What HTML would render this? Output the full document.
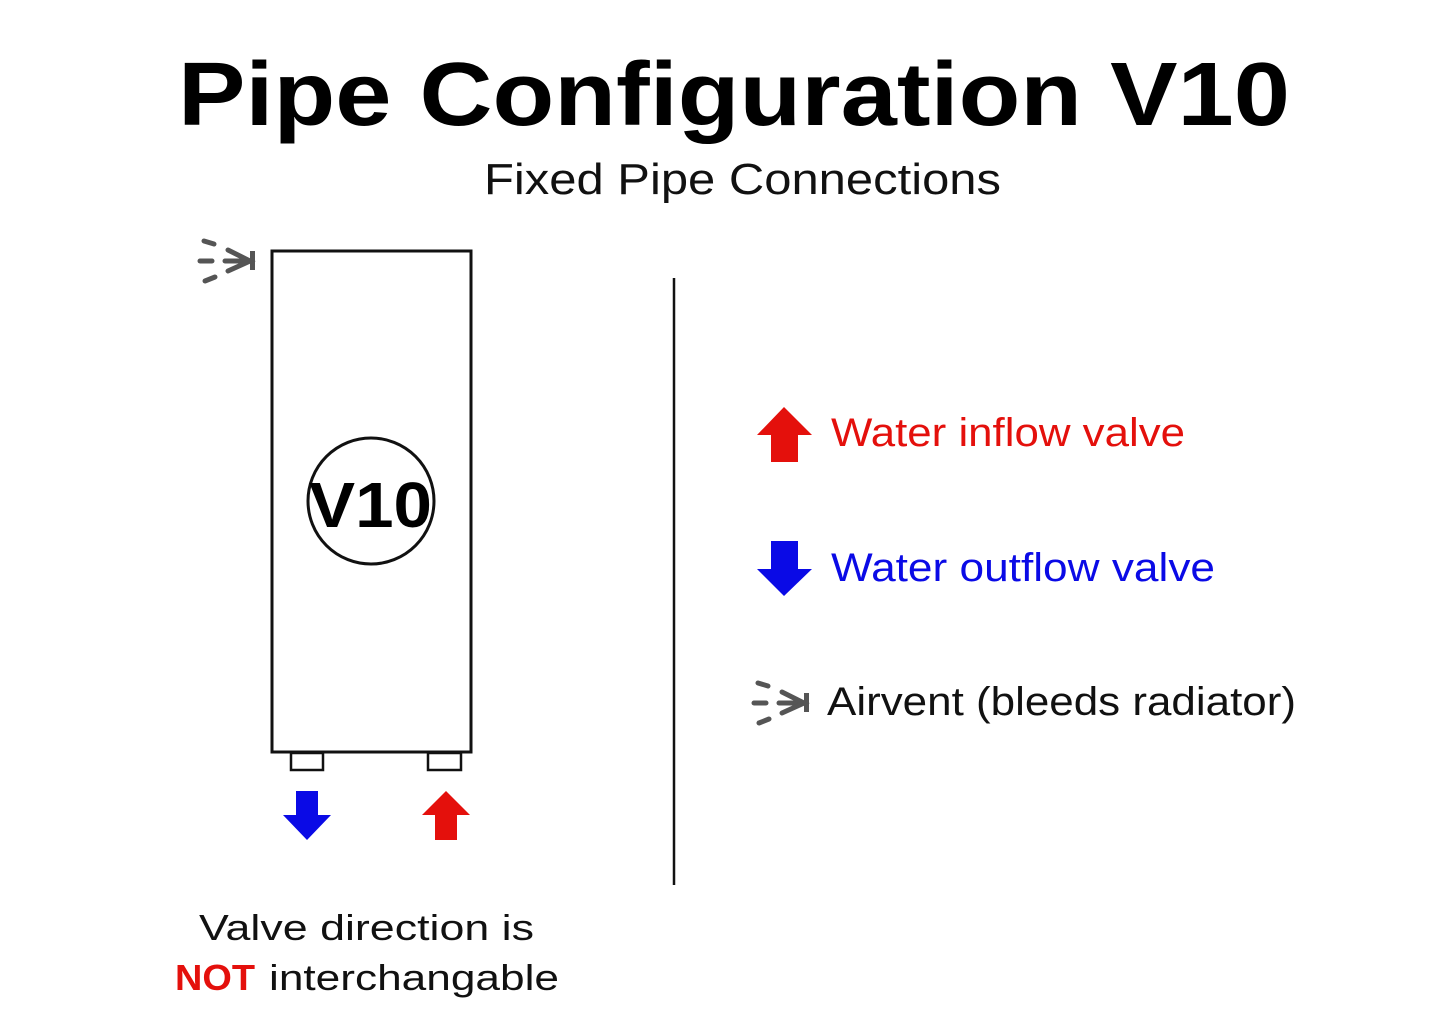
<!DOCTYPE html>
<html><head><style>html,body{margin:0;padding:0;background:#fff}svg{display:block}</style></head><body>
<svg width="1445" height="1028" viewBox="0 0 1445 1028" xmlns="http://www.w3.org/2000/svg" font-family="Liberation Sans, sans-serif">
<rect width="1445" height="1028" fill="#fff"/>
<text x="178" y="125" font-size="90" font-weight="bold" textLength="1112" lengthAdjust="spacingAndGlyphs" fill="#000">Pipe Configuration V10</text>
<text x="484" y="194" font-size="44" textLength="517" lengthAdjust="spacingAndGlyphs" fill="#111">Fixed Pipe Connections</text>
<rect x="272" y="251" width="199" height="501" fill="none" stroke="#111" stroke-width="3"/>
<rect x="291" y="753" width="32" height="17" fill="none" stroke="#111" stroke-width="2.5"/>
<rect x="428" y="753" width="33" height="17" fill="none" stroke="#111" stroke-width="2.5"/>
<circle cx="371" cy="501" r="63" fill="none" stroke="#111" stroke-width="3"/>
<text x="309" y="527" font-size="64" font-weight="bold" textLength="123" lengthAdjust="spacingAndGlyphs" fill="#000">V10</text>
<g stroke="#555" stroke-width="5" stroke-linecap="round" fill="none">
<line x1="204" y1="241" x2="214" y2="244"/><line x1="200" y1="261" x2="212" y2="261"/><line x1="205" y1="281" x2="215" y2="277"/>
<line x1="225" y1="261" x2="250" y2="261"/><polyline points="228,250 250,261 228,271"/>
</g>
<rect x="250" y="251" width="5" height="19" fill="#555"/>
<polygon points="296,791 318,791 318,815 331,815 307,840 283,815 296,815" fill="#0a0ae6"/>
<polygon points="446,791 470,815 457,815 457,840 435,840 435,815 422,815" fill="#e4100c"/>
<line x1="674" y1="278" x2="674" y2="885" stroke="#111" stroke-width="2.5"/>
<polygon points="784,407 812,435 798,435 798,462 771,462 771,435 757,435" fill="#e4100c"/>
<text x="831" y="446" font-size="40" textLength="354" lengthAdjust="spacingAndGlyphs" fill="#e4100c">Water inflow valve</text>
<polygon points="771,541 798,541 798,569 812,569 784,596 757,569 771,569" fill="#0a0ae6"/>
<text x="831" y="581" font-size="40" textLength="384" lengthAdjust="spacingAndGlyphs" fill="#0a0ae6">Water outflow valve</text>
<g stroke="#555" stroke-width="5" stroke-linecap="round" fill="none">
<line x1="758" y1="683" x2="768" y2="686"/><line x1="754" y1="703" x2="766" y2="703"/><line x1="759" y1="723" x2="769" y2="719"/>
<line x1="779" y1="703" x2="804" y2="703"/><polyline points="782,692 804,703 782,713"/>
</g>
<rect x="804" y="693" width="5" height="19" fill="#555"/>
<text x="827" y="715" font-size="40" textLength="469" lengthAdjust="spacingAndGlyphs" fill="#111">Airvent (bleeds radiator)</text>
<text x="199" y="940" font-size="36" textLength="335" lengthAdjust="spacingAndGlyphs" fill="#111">Valve direction is</text>
<text x="175" y="990" font-size="36" font-weight="bold" textLength="80" lengthAdjust="spacingAndGlyphs" fill="#e4100c">NOT</text>
<text x="269" y="990" font-size="36" textLength="290" lengthAdjust="spacingAndGlyphs" fill="#111">interchangable</text>
</svg>
</body></html>
